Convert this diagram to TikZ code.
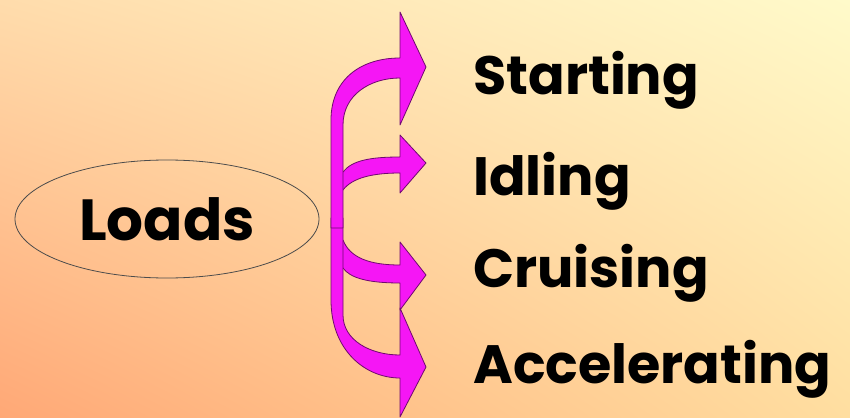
\documentclass[tikz,border=0pt]{standalone}
\usepackage{fontspec}
\setmainfont{Poppins}
\usetikzlibrary{shapes.geometric,shadings}

\definecolor{loadpink}{RGB}{245,22,245}
\definecolor{bgtl}{RGB}{255,220,172}
\definecolor{bgtr}{RGB}{255,250,202}
\definecolor{bgbl}{RGB}{255,168,118}
\definecolor{bgbr}{RGB}{255,222,160}

\begin{document}
\begin{tikzpicture}[x=1pt, y=-1pt,
    band/.style={fill=loadpink, draw=black!55!loadpink, line width=0.8pt, line join=round},
    item/.style={anchor=base west, inner sep=0pt, font=\bfseries\fontsize{54}{58}\selectfont}]
    \useasboundingbox (0,0) rectangle (850,417);
    \shade[upper left=bgtl, upper right=bgtr, lower left=bgbl, lower right=bgbr]
        (0,0) rectangle (850,417);

    \node[ellipse, draw=black!70, line width=0.8pt, minimum width=304pt, minimum height=118pt,
        inner sep=0pt, font=\bfseries\fontsize{58}{62}\selectfont] (loads) at (167,219) {Loads};

    \node[item] (starting) at (473,95) {Starting};
    \node[item] (idling) at (473,195) {Idling};
    \node[item] (cruising) at (473,287) {Cruising};
    \node[item] (accel) at (473,383) {Accelerating};

    % middle arrows
    \draw[band] (337,172) -- (343,172) .. controls (352,160) and (372,157) .. (400,157)
        -- (400,135) -- (426,163) -- (400,193) -- (400,173)
        .. controls (372,173) and (352,178) .. (343,190) -- (337,190) -- cycle;
    \draw[band] (337,240) -- (343,240) .. controls (350,258) and (370,265) .. (400,265)
        -- (400,242) -- (426,275) -- (400,310) -- (400,283)
        .. controls (368,283) and (350,278) .. (343,268) -- (337,268) -- cycle;

    % outer arrows with the trunk
    \draw[band] (331,218) -- (331,300) .. controls (331,350) and (365,378) .. (400,378)
        -- (400,417) -- (426,367) -- (400,308) -- (400,355)
        .. controls (370,355) and (343,340) .. (343,315) -- (343,218) -- cycle;
    \draw[band] (331,228) -- (331,120) .. controls (331,80) and (360,58) .. (400,58)
        -- (400,12) -- (426,67) -- (400,125) -- (400,78)
        .. controls (370,78) and (343,95) .. (343,125) -- (343,228) -- cycle;
\end{tikzpicture}
\end{document}
